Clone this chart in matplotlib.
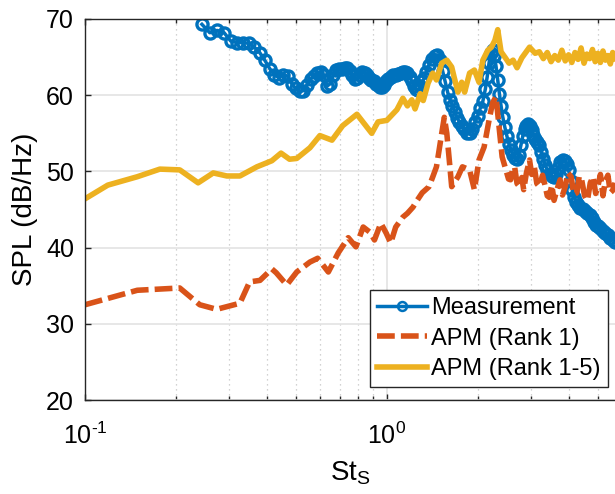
import numpy as np
import matplotlib.pyplot as plt
from matplotlib.ticker import LogLocator, NullFormatter, FuncFormatter

# measured spectrum (St_S, SPL)
st_meas = [0.244, 0.259, 0.274, 0.289, 0.304, 0.319, 0.334, 0.349, 0.364, 0.379,
           0.394, 0.409, 0.424, 0.439, 0.454, 0.469, 0.484, 0.499, 0.514, 0.529,
           0.544, 0.559, 0.574, 0.589, 0.604, 0.619, 0.634, 0.649, 0.664, 0.679,
           0.694, 0.709, 0.724, 0.739, 0.754, 0.769, 0.784, 0.799, 0.814, 0.829,
           0.844, 0.859, 0.874, 0.889, 0.904, 0.919, 0.934, 0.949, 0.964, 0.979,
           0.994, 1.01, 1.03, 1.05, 1.07, 1.09, 1.11, 1.13, 1.15, 1.17,
           1.19, 1.21, 1.23, 1.25, 1.27, 1.29, 1.31, 1.33, 1.35, 1.38,
           1.41, 1.44, 1.47, 1.50, 1.53, 1.56, 1.59, 1.62, 1.65, 1.68,
           1.71, 1.74, 1.77, 1.80, 1.84, 1.88, 1.92, 1.96, 2.00, 2.04,
           2.08, 2.12, 2.15, 2.18, 2.21, 2.24, 2.27, 2.30, 2.33, 2.36,
           2.39, 2.42, 2.46, 2.50, 2.54, 2.58, 2.62, 2.66, 2.70, 2.74,
           2.78, 2.82, 2.86, 2.90, 2.94, 2.98, 3.02, 3.06, 3.10, 3.15,
           3.20, 3.25, 3.30, 3.35, 3.40, 3.46, 3.52, 3.58, 3.64, 3.70,
           3.76, 3.82, 3.88, 3.94, 4.00, 4.06, 4.12, 4.18, 4.24, 4.30,
           4.38, 4.46, 4.54, 4.62, 4.70, 4.78, 4.86, 4.94, 5.02, 5.10,
           5.20, 5.30, 5.40, 5.50, 5.60, 5.70]
spl_meas = [69.3, 68.2, 68.5, 68.2, 67.1, 66.9, 66.9, 66.8, 66.3, 65.6,
            64.6, 63.5, 62.7, 62.3, 62.7, 62.5, 61.5, 60.9, 60.5, 60.6,
            61.4, 62.1, 62.5, 62.9, 63.1, 62.6, 61.2, 61.5, 62.6, 63.3,
            63.4, 63.5, 63.6, 63.6, 63.2, 62.6, 62.1, 62.2, 62.7, 63.0,
            62.9, 62.6, 62.3, 62.0, 61.8, 61.5, 61.3, 61.1, 61.1, 61.4,
            61.8, 62.1, 62.4, 62.6, 62.7, 62.8, 62.9, 63.0, 63.0, 62.9,
            62.4, 61.8, 61.2, 60.8, 60.7, 61.2, 61.8, 62.2, 63.0, 64.0,
            64.7, 65.2, 65.3, 64.6, 63.2, 61.8, 60.4, 59.4, 58.6, 57.8,
            57.0, 56.5, 56.0, 55.5, 55.1, 55.0, 55.6, 56.5, 57.3, 58.3,
            59.2, 60.8, 62.4, 64.2, 65.6, 65.9, 65.2, 63.8, 62.0, 60.2,
            58.6, 57.2, 55.8, 54.6, 53.6, 52.8, 52.2, 51.8, 51.6, 52.2,
            53.4, 54.6, 55.5, 56.0, 56.2, 56.0, 55.4, 54.8, 54.3, 53.9,
            53.5, 52.6, 51.6, 50.8, 50.2, 49.6, 49.4, 49.3, 49.6, 50.4,
            51.2, 51.5, 51.4, 51.0, 50.2, 48.8, 47.5, 46.6, 46.0, 45.6,
            45.2, 45.0, 44.8, 44.6, 44.3, 43.9, 43.4, 43.0, 42.8, 42.6,
            42.2, 41.9, 41.6, 41.3, 41.0, 40.8]

# APM, rank 1
st_r1 = [0.100, 0.149, 0.206, 0.240, 0.273, 0.326, 0.351, 0.380, 0.416, 0.430,
         0.466, 0.503, 0.556, 0.590, 0.640, 0.690, 0.745, 0.790, 0.835, 0.880,
         0.910, 0.955, 0.995, 1.03, 1.07, 1.13, 1.17, 1.22, 1.26, 1.31,
         1.38, 1.42, 1.46, 1.49, 1.52, 1.55, 1.58, 1.61, 1.64, 1.72,
         1.78, 1.88, 1.95, 2.02, 2.10, 2.18, 2.24, 2.30, 2.36, 2.41,
         2.48, 2.53, 2.57, 2.61, 2.65, 2.70, 2.75, 2.80, 2.84, 2.90,
         2.97, 3.02, 3.08, 3.14, 3.20, 3.28, 3.35, 3.40, 3.45, 3.52,
         3.58, 3.66, 3.75, 3.82, 3.90, 3.98, 4.08, 4.16, 4.26, 4.34,
         4.42, 4.52, 4.62, 4.72, 4.82, 4.92, 5.00, 5.10, 5.20, 5.30,
         5.40, 5.50, 5.60, 5.70]
spl_r1 = [32.5, 34.4, 34.7, 32.5, 31.9, 32.7, 35.5, 35.7, 37.2, 36.7,
          35.1, 36.8, 38.1, 38.6, 36.8, 39.3, 41.3, 40.1, 42.7, 42.0,
          41.0, 43.2, 41.9, 40.6, 42.7, 44.0, 44.5, 45.3, 46.2, 47.2,
          48.0, 49.3, 50.6, 52.8, 55.0, 57.1, 55.0, 51.5, 48.0, 49.3,
          50.6, 50.2, 47.6, 51.5, 53.2, 56.7, 59.0, 59.8, 55.4, 51.9,
          50.2, 49.0, 48.9, 50.3, 50.6, 48.4, 48.0, 49.2, 47.6, 49.8,
          51.5, 49.6, 50.6, 48.4, 48.0, 49.5, 48.0, 46.8, 46.6, 48.2,
          46.2, 47.6, 48.9, 46.9, 48.0, 49.8, 49.3, 47.0, 47.2, 49.4,
          48.9, 46.8, 46.2, 48.5, 49.3, 47.1, 48.0, 49.6, 46.8, 48.8,
          49.5, 47.2, 47.5, 48.5]

# APM, rank 1-5
st_r5 = [0.100, 0.119, 0.149, 0.177, 0.206, 0.237, 0.266, 0.295, 0.326, 0.371,
         0.416, 0.446, 0.476, 0.503, 0.556, 0.600, 0.658, 0.714, 0.796, 0.891,
         0.935, 1.00, 1.08, 1.13, 1.17, 1.21, 1.24, 1.29, 1.32, 1.37,
         1.42, 1.46, 1.52, 1.58, 1.64, 1.67, 1.72, 1.77, 1.81, 1.88,
         1.95, 2.02, 2.08, 2.16, 2.22, 2.28, 2.33, 2.39, 2.46, 2.54,
         2.62, 2.70, 2.80, 2.97, 3.10, 3.20, 3.30, 3.40, 3.50, 3.60,
         3.70, 3.80, 3.90, 4.00, 4.10, 4.20, 4.30, 4.40, 4.50, 4.60,
         4.70, 4.80, 4.90, 5.00, 5.10, 5.20, 5.30, 5.40, 5.50, 5.60,
         5.70]
spl_r5 = [46.4, 48.2, 49.3, 50.3, 50.2, 48.5, 49.8, 49.4, 49.4, 50.6,
          51.4, 52.4, 51.6, 51.7, 53.1, 54.7, 54.1, 56.0, 57.5, 55.0,
          56.5, 56.7, 58.1, 59.6, 58.6, 59.4, 58.2, 60.2, 59.3, 61.6,
          62.9, 62.0, 64.2, 64.6, 63.7, 62.4, 60.4, 61.7, 60.4, 62.9,
          63.3, 61.7, 64.6, 65.9, 66.3, 67.2, 68.6, 65.7, 65.0, 64.2,
          64.6, 63.6, 64.9, 66.3, 65.5, 65.7, 64.8, 65.6, 64.4, 65.2,
          64.6, 65.9, 64.5, 65.3, 64.3, 65.6, 64.7, 66.2, 64.2, 65.4,
          64.8, 66.0, 64.4, 65.5, 64.3, 65.8, 64.6, 65.2, 64.1, 65.6,
          64.8]

yticks = [20, 30, 40, 50, 60, 70]

plt.rcParams['font.family'] = ['Liberation Sans', 'DejaVu Sans']
plt.rcParams['mathtext.fontset'] = 'custom'
plt.rcParams['mathtext.rm'] = 'Liberation Sans'
plt.rcParams['mathtext.it'] = 'Liberation Sans'
plt.rcParams['axes.unicode_minus'] = False

c_blue = '#0072BD'
c_red = '#D95319'
c_yel = '#EDB120'
c_ax = '#262626'


def decade_label(x, pos):
    # 10^n with a short hyphen for negative exponents
    e = int(round(np.log10(x)))
    s = str(abs(e)) if e >= 0 else '\u2010' + str(abs(e))
    return r'$\mathdefault{10^{%s}}$' % s


fig = plt.figure(figsize=(6.15, 4.94), dpi=100)
ax = fig.add_axes([85 / 615, 1 - 400 / 494, 530 / 615, 381 / 494])

ax.plot(st_meas, spl_meas, '-o', color=c_blue, lw=2.5, ms=8, mew=2.4,
        mfc='none', label='Measurement')
ax.plot(st_r1, spl_r1, '--', color=c_red, lw=4.0, dashes=(3.2, 1.1),
        label='APM (Rank 1)')
ax.plot(st_r5, spl_r5, '-', color=c_yel, lw=4.0, label='APM (Rank 1-5)')

ax.set_xscale('log')
ax.set_xlim(0.1, 5.7)
ax.set_ylim(20, 70)
ax.set_yticks(yticks)
ax.xaxis.set_major_locator(LogLocator(base=10))
ax.xaxis.set_major_formatter(FuncFormatter(decade_label))
ax.xaxis.set_minor_locator(LogLocator(base=10, subs=np.arange(2, 10)))
ax.xaxis.set_minor_formatter(NullFormatter())

ax.grid(True, which='major', color='#e3e3e3', lw=1.2, ls='-')
ax.grid(True, which='minor', axis='x', color='#c4c4c4', lw=0.9, ls=(0, (1, 3)))
ax.set_axisbelow(True)

ax.tick_params(which='both', direction='in', top=True, right=False,
               colors=c_ax, labelcolor='black', labelsize=18, pad=8)
ax.tick_params(axis='x', which='both', pad=16)
ax.tick_params(which='major', length=4, width=1)
ax.tick_params(which='minor', length=3, width=1)
for side in ['left', 'bottom', 'top']:
    ax.spines[side].set_color(c_ax)
    ax.spines[side].set_linewidth(1.0)
ax.spines['right'].set_visible(False)

ax.set_xlabel(r'St$_{\mathrm{S}}$', fontsize=20, labelpad=8)
ax.set_ylabel('SPL (dB/Hz)', fontsize=20, labelpad=6)

leg = ax.legend(loc='lower right', bbox_to_anchor=(608 / 615, 1 - 387 / 494),
                bbox_transform=fig.transFigure, borderaxespad=0,
                fontsize=17, frameon=True, fancybox=False, framealpha=1,
                edgecolor=c_ax, handlelength=2.1, handletextpad=0.2,
                labelspacing=0.35, borderpad=0.3, markerscale=0.8)
leg.get_frame().set_linewidth(1.0)
leg.get_lines()[0].set_markeredgewidth(1.8)

fig.savefig('out.png', dpi=100)
